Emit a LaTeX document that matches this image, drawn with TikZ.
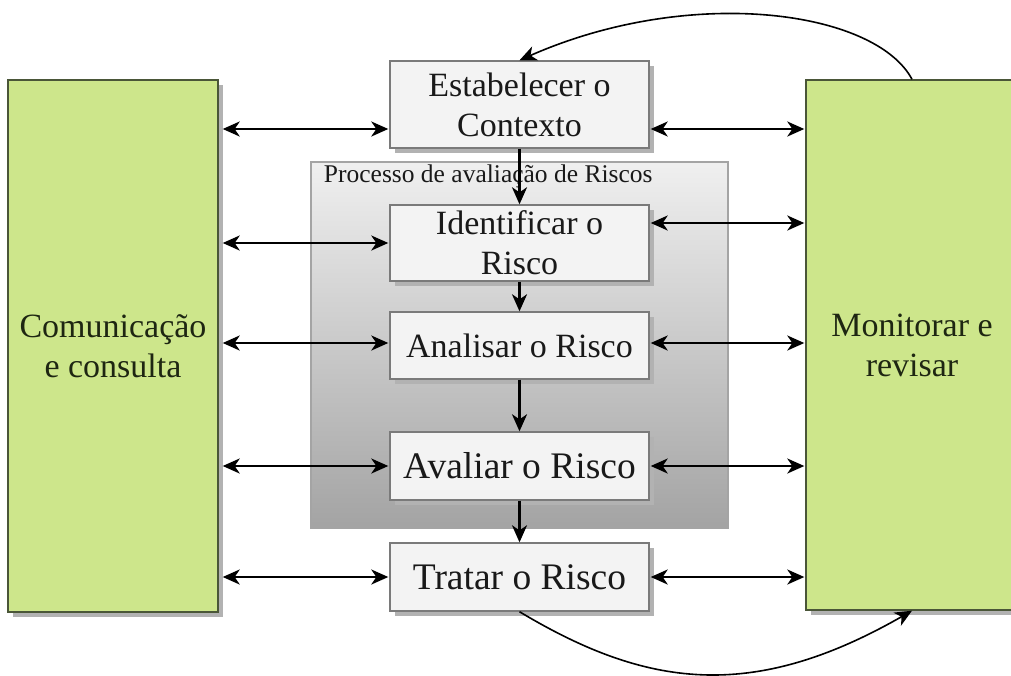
\documentclass[tikz,border=0pt]{standalone}
\usepackage{fontspec}
\setmainfont{Liberation Serif}
\usetikzlibrary{arrows.meta,shadows,calc}

\definecolor{boxfill}{HTML}{F3F3F3}
\definecolor{boxline}{HTML}{7A7A7A}
\definecolor{shadowgray}{HTML}{B2B2B2}
\definecolor{greenfill}{HTML}{CDE68B}
\definecolor{greenline}{HTML}{4A5638}
\definecolor{greentext}{HTML}{1E2612}
\definecolor{procline}{HTML}{A4A4A4}

\begin{document}
\begin{tikzpicture}[x=1pt,y=-1pt,
  tip/.tip={Stealth[length=17pt,width=15pt,inset=5pt]},
  stepbox/.style={draw=boxline, line width=1.4pt, fill=boxfill,
    minimum width=259pt, inner sep=0pt, align=center, text=black!90,
    font=\fontsize{34}{40}\selectfont,
    drop shadow={shadow xshift=5pt, shadow yshift=-5pt, fill=shadowgray, opacity=1}},
  sidebox/.style={draw=greenline, line width=1.4pt, fill=greenfill,
    inner sep=0pt, align=center, text=greentext,
    font=\fontsize{34}{40}\selectfont,
    drop shadow={shadow xshift=5pt, shadow yshift=-5pt, fill=shadowgray, opacity=1}},
  procbox/.style={draw=procline, line width=2.5pt, top color=black!6, bottom color=black!36,
    inner sep=0pt},
  flow/.style={line width=2.2pt, -tip},
  link/.style={line width=2.2pt, tip-tip, shorten <=4pt, shorten >=1pt},
  linkr/.style={line width=2.2pt, tip-tip, shorten <=1pt, shorten >=1pt},
  loop/.style={line width=1.6pt, -tip}
]
\useasboundingbox (0,0) rectangle (1011,675);

% side panels
\node[sidebox, minimum width=210pt, minimum height=532pt] (com) at (113,346)
  {Comunicação\\e consulta};
\node[sidebox, minimum width=212pt, minimum height=530pt] (mon) at (912,345)
  {Monitorar e\\revisar};

% risk assessment container
\node[procbox, minimum width=417pt, minimum height=366pt] (proc) at (519.5,345) {};
\node[anchor=west, inner sep=0pt, text=black!90, font=\fontsize{25.5}{30}\selectfont]
  (proclabel) at ($(proc.north west)+(14,16)$) {Processo de avaliação de Riscos};

% process steps
\node[stepbox, minimum height=87pt] (est) at (519.5,104.5) {Estabelecer o\\Contexto};
\node[stepbox, minimum height=76pt] (ide) at (519.5,243) {Identificar o\\Risco};
\node[stepbox, minimum height=67pt] (ana) at (519.5,345.5) {Analisar o Risco};
\node[stepbox, minimum height=68pt, font=\fontsize{37.5}{44}\selectfont] (ava) at (519.5,466) {Avaliar o Risco};
\node[stepbox, minimum height=68pt, font=\fontsize{37.5}{44}\selectfont] (tra) at (519.5,577) {Tratar o Risco};

% main flow
\draw[flow] (est) -- (ide);
\draw[flow] (ide) -- (ana);
\draw[flow] (ana) -- (ava);
\draw[flow] (ava) -- (tra);

% row levels of the side links
\coordinate (l1) at (0,129);
\coordinate (l2) at (0,243);
\coordinate (l3) at (0,343);
\coordinate (l4) at (0,466);
\coordinate (l5) at (0,577);
\coordinate (r2) at (0,223);

% links to communication and consultation
\draw[link] (com.east |- l1) -- (est.west |- l1);
\draw[link] (com.east |- l2) -- (ide.west |- l2);
\draw[link] (com.east |- l3) -- (ana.west |- l3);
\draw[link] (com.east |- l4) -- (ava.west |- l4);
\draw[link] (com.east |- l5) -- (tra.west |- l5);

% links to monitoring and review
\draw[linkr] (est.east |- l1) -- (mon.west |- l1);
\draw[linkr] (ide.east |- r2) -- (mon.west |- r2);
\draw[linkr] (ana.east |- l3) -- (mon.west |- l3);
\draw[linkr] (ava.east |- l4) -- (mon.west |- l4);
\draw[linkr] (tra.east |- l5) -- (mon.west |- l5);

% feedback loops
\draw[loop] (mon.north) .. controls (875,10) and (690,-15) .. (est.north);
\draw[loop] (tra.south) .. controls (645,687) and (751,703) .. (mon.south);
\end{tikzpicture}
\end{document}
